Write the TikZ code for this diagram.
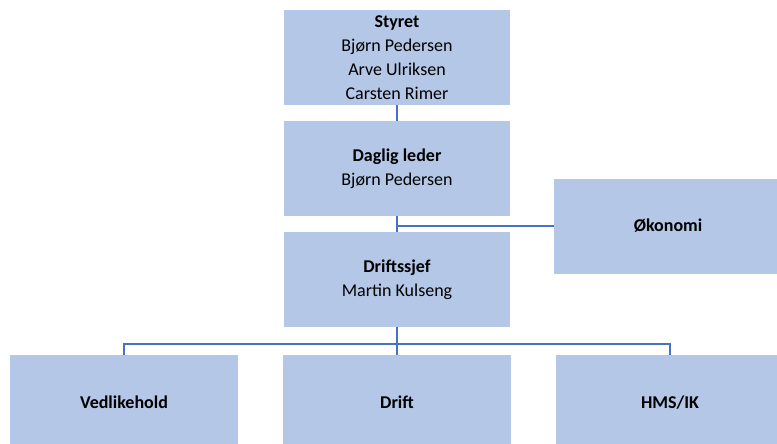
\documentclass[tikz,border=0pt]{standalone}
\usepackage{fontspec}
\setmainfont{Carlito}
\usepackage{xcolor}
\usepackage{tikz}

\definecolor{BoxBlue}{RGB}{180,199,231}
\definecolor{LineBlue}{RGB}{68,114,196}

\tikzset{
    orgbox/.style={fill=BoxBlue, draw=none, minimum width=226pt, minimum height=95pt,
        align=center, inner sep=0pt, font=\fontsize{18}{24}\selectfont},
    wide box/.style={orgbox, minimum width=228pt},
    link/.style={LineBlue, line width=1.5pt}
}

\begin{document}
\begin{tikzpicture}[x=1pt, y=-1pt]

            \useasboundingbox (0,0) rectangle (777,444);

            \node[orgbox] (styret) at (397,57.5) {\textbf{Styret}\\Bjørn Pedersen\\Arve Ulriksen\\Carsten Rimer};

            \node[orgbox] (daglig) at (397,168.5) {\textbf{Daglig leder}\\Bjørn Pedersen};

            \node[orgbox] (driftssjef) at (397,279.5) {\textbf{Driftssjef}\\Martin Kulseng};

            \node[wide box] (okonomi) at (668,226) {\textbf{Økonomi}};

            \node[wide box] (vedlikehold) at (124,402.5) {\textbf{Vedlikehold}};
            \node[wide box] (drift) at (397,402.5) {\textbf{Drift}};
            \node[wide box] (hms) at (670,402.5) {\textbf{HMS/IK}};

            \coordinate (fork) at (397,344);

            \draw[link] (styret.south) -- (daglig.north);
            \draw[link] (daglig.south) -- (driftssjef.north);
            \draw[link] (okonomi.west) -- (okonomi.west -| daglig.south);

            \draw[link] (driftssjef.south) -- (drift.north);
            \draw[link] (vedlikehold.north) |- (fork) -| (hms.north);

        \end{tikzpicture}
\end{document}
